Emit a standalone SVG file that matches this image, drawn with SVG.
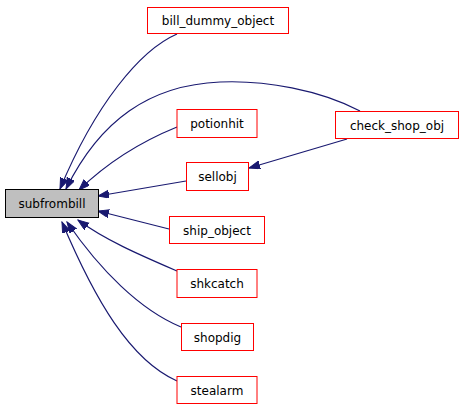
<svg xmlns="http://www.w3.org/2000/svg" width="464" height="411" viewBox="0 0 464 411">
<style>
.n rect{fill:#ffffff;stroke:#ff0000;stroke-width:1}
.root rect{fill:#bfbfbf;stroke:#000000;stroke-width:1}
text{font-family:"DejaVu Sans","Liberation Sans",Arial,sans-serif;font-size:12px;text-anchor:middle;fill:#000}
.e path{fill:none;stroke:#191970;stroke-width:1.2;marker-end:url(#a)}
</style>
<defs>
<marker id="a" markerUnits="userSpaceOnUse" markerWidth="12" markerHeight="10" refX="11" refY="4" orient="auto">
<path d="M0,0 L11,4 L0,8 z" fill="#191970" stroke="#191970"/>
</marker>
</defs>
<rect width="464" height="411" fill="#ffffff"/>
<g id="edges" class="e">
<path d="M177,34 C140,50 95,105 60,189"/>
<path d="M360,111 C320,90 265,80 220,82 C150,85 100,120 66,189"/>
<path d="M177,127 C145,140 110,160 79,190"/>
<path d="M186,181 L98,196"/>
<path d="M169,229 L98,211"/>
<path d="M177,271 C140,255 105,240 78,220"/>
<path d="M181,327 C140,310 100,270 67,222"/>
<path d="M177,381 C130,360 95,300 62,222"/>
<path d="M347,139 L249,168"/>
</g>
<g id="subfrombill" class="root"><rect x="5.5" y="189.5" width="93" height="28" fill="#bfbfbf" stroke="#000000"/><text x="52" y="208">subfrombill</text></g>
<g id="bill_dummy_object" class="n"><rect x="147.5" y="7.5" width="141" height="26" fill="#ffffff" stroke="#ff0000"/><text x="218" y="25">bill_dummy_object</text></g>
<g id="check_shop_obj" class="n"><rect x="335.5" y="111.5" width="123" height="27" fill="#ffffff" stroke="#ff0000"/><text x="397" y="129.5">check_shop_obj</text></g>
<g id="potionhit" class="n"><rect x="177" y="109.5" width="80" height="28" fill="#ffffff" stroke="#ff0000"/><text x="217" y="128">potionhit</text></g>
<g id="sellobj" class="n"><rect x="186.5" y="162.5" width="62" height="28" fill="#ffffff" stroke="#ff0000"/><text x="217.5" y="181">sellobj</text></g>
<g id="ship_object" class="n"><rect x="169.5" y="216.5" width="95" height="27" fill="#ffffff" stroke="#ff0000"/><text x="217" y="234.5">ship_object</text></g>
<g id="shkcatch" class="n"><rect x="177" y="269.5" width="80" height="28" fill="#ffffff" stroke="#ff0000"/><text x="217" y="288">shkcatch</text></g>
<g id="shopdig" class="n"><rect x="181.5" y="323.5" width="72" height="27" fill="#ffffff" stroke="#ff0000"/><text x="217.5" y="341.5">shopdig</text></g>
<g id="stealarm" class="n"><rect x="177" y="376.5" width="80" height="27" fill="#ffffff" stroke="#ff0000"/><text x="217" y="394.5">stealarm</text></g>
</svg>
